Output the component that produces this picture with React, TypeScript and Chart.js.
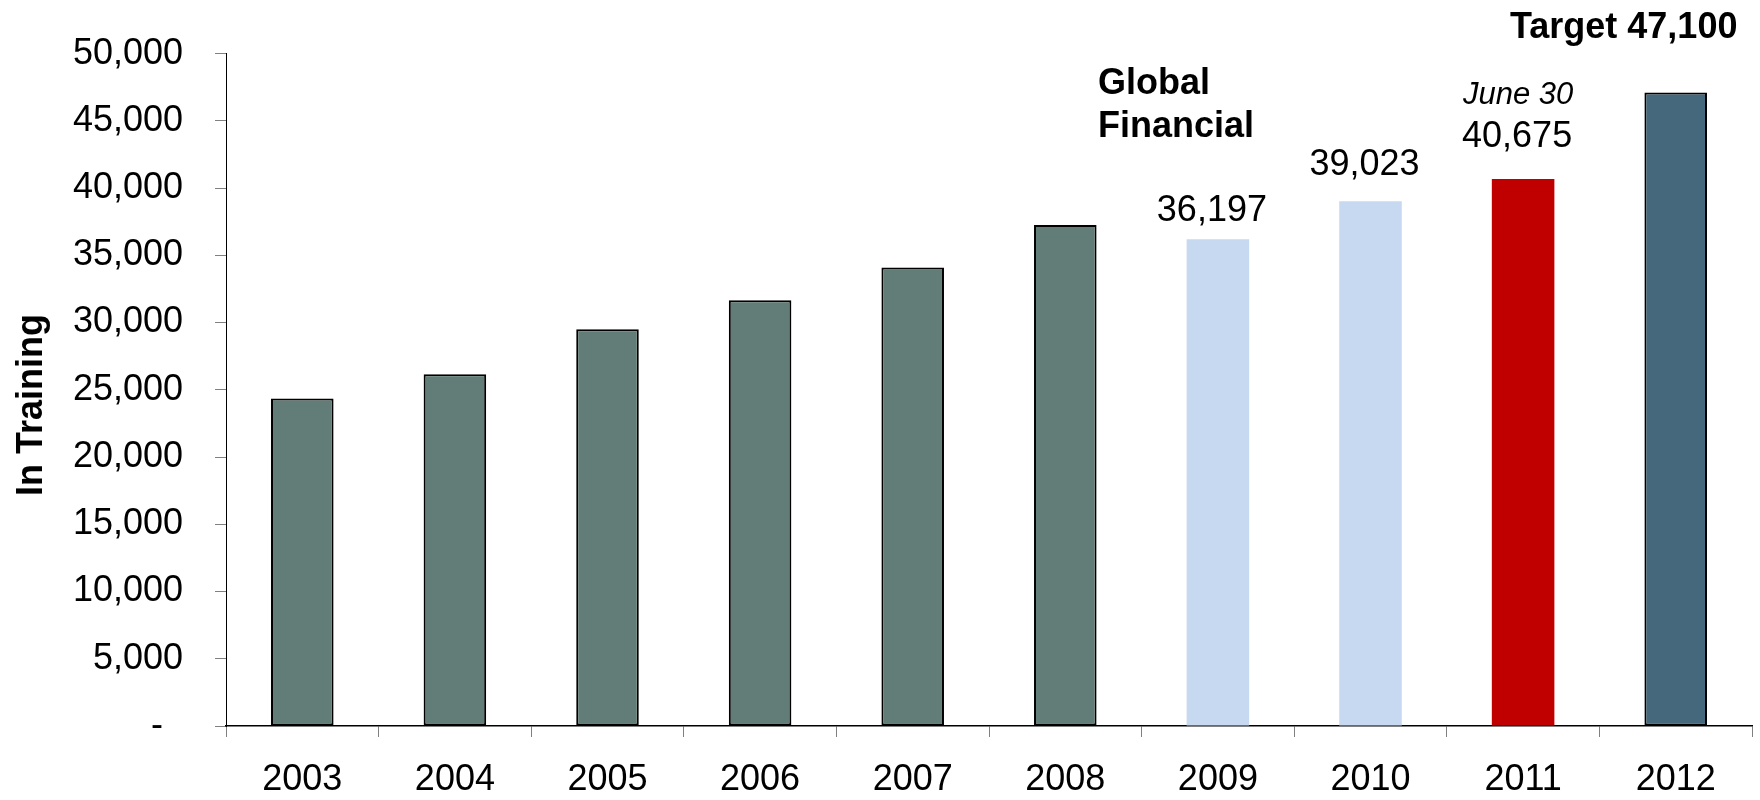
import React, { useEffect, useRef } from 'react';
import { Chart, registerables } from 'chart.js';

Chart.register(...registerables);

// ---- data ----
const years = ['2003', '2004', '2005', '2006', '2007', '2008', '2009', '2010', '2011', '2012'];
const inTraining = [24350, 26150, 29500, 31650, 34100, 37250, 36197, 39023, 40675, 47100];
const barColors = ['#627D77', '#627D77', '#627D77', '#627D77', '#627D77', '#627D77', '#C6D9F1', '#C6D9F1', '#C00000', '#45687C'];
const barBorderColors = ['#000000', '#000000', '#000000', '#000000', '#000000', '#000000', '#C6D9F1', '#C6D9F1', '#C00000', '#000000'];
const barBorderWidths = [2, 2, 2, 2, 2, 2, 0, 0, 0, 2];
const yTickMin = 0;
const yTickMax = 50000;
const yTickStep = 5000;
const yAxisTitle = 'In Training';

// value labels placed above specific bars
const valueLabelIndex = [6, 7, 8];
const valueLabelText = ['36,197', '39,023', '40,675'];
const valueLabelLift = [18, 26, 32];

const FONT = '"Liberation Sans", Arial, Helvetica, sans-serif';

const annotationPlugin = {
  id: 'annotations',
  afterDatasetsDraw(chart: any) {
    const { ctx } = chart;
    const x = chart.scales.x;
    const y = chart.scales.y;
    ctx.save();
    ctx.fillStyle = '#000000';
    ctx.textBaseline = 'alphabetic';

    // value labels
    ctx.font = `36px ${FONT}`;
    ctx.textAlign = 'center';
    valueLabelIndex.forEach((idx, i) => {
      const cx = x.getPixelForValue(idx) - 6;
      const top = y.getPixelForValue(inTraining[idx]);
      ctx.fillText(valueLabelText[i], cx, top - valueLabelLift[i]);
    });

    // "June 30" above 2011 value
    ctx.font = `italic 31px ${FONT}`;
    ctx.fillText('June 30', x.getPixelForValue(8) - 5, y.getPixelForValue(inTraining[8]) - 75);

    // Global Financial
    ctx.font = `bold 36px ${FONT}`;
    ctx.textAlign = 'left';
    const gx = x.getPixelForValue(6) - 120;
    ctx.fillText('Global', gx, 94);
    ctx.fillText('Financial', gx, 137);

    // Target
    ctx.textAlign = 'center';
    ctx.fillText('Target 47,100', x.getPixelForValue(9) - 52, 38);

    // y axis title
    ctx.save();
    ctx.translate(42, 405);
    ctx.rotate(-Math.PI / 2);
    ctx.textAlign = 'center';
    ctx.fillText(yAxisTitle, 0, 0);
    ctx.restore();

    ctx.restore();
  },
};

export default function App() {
  const ref = useRef<HTMLCanvasElement | null>(null);

  useEffect(() => {
    if (!ref.current) return;
    const chart = new Chart(ref.current, {
      type: 'bar',
      data: {
        labels: years,
        datasets: [
          {
            label: yAxisTitle,
            data: inTraining,
            backgroundColor: barColors,
            borderColor: barBorderColors,
            borderWidth: barBorderWidths,
            borderSkipped: false,
            barPercentage: 0.41,
            categoryPercentage: 1.0,
          },
        ],
      },
      options: {
        animation: false,
        responsive: false,
        maintainAspectRatio: false,
        layout: { padding: { top: 53, right: 8, left: 0, bottom: 0 } },
        plugins: {
          legend: { display: false },
          tooltip: { enabled: false },
          title: { display: false },
        },
        scales: {
          x: {
            grid: {
              display: true,
              drawOnChartArea: false,
              drawTicks: true,
              tickLength: 11,
              color: '#808080',
              offset: true,
            },
            border: { display: true, color: '#000000', width: 1.5 },
            ticks: {
              color: '#000000',
              font: { family: FONT, size: 36 },
              padding: 21,
              maxRotation: 0,
              autoSkip: false,
            },
            afterFit: (scale: any) => {
              scale.height = 74;
            },
          },
          y: {
            min: yTickMin,
            max: yTickMax,
            grid: {
              display: true,
              drawOnChartArea: false,
              drawTicks: true,
              tickLength: 11,
              color: '#808080',
            },
            border: { display: true, color: '#000000', width: 1 },
            ticks: {
              stepSize: yTickStep,
              color: '#000000',
              font: { family: FONT, size: 36 },
              padding: 32,
              callback: (v: any) => (Number(v) === 0 ? '-  ' : Number(v).toLocaleString('en-US')),
            },
            afterFit: (scale: any) => {
              scale.width = 226;
            },
          },
        },
      },
      plugins: [annotationPlugin],
    });
    return () => chart.destroy();
  }, []);

  return (
    <div style={{ position: 'fixed', left: 0, top: 0, width: 1760, height: 800, background: '#ffffff' }}>
      <canvas ref={ref} width={1760} height={800} style={{ width: 1760, height: 800, display: 'block' }} />
    </div>
  );
}
